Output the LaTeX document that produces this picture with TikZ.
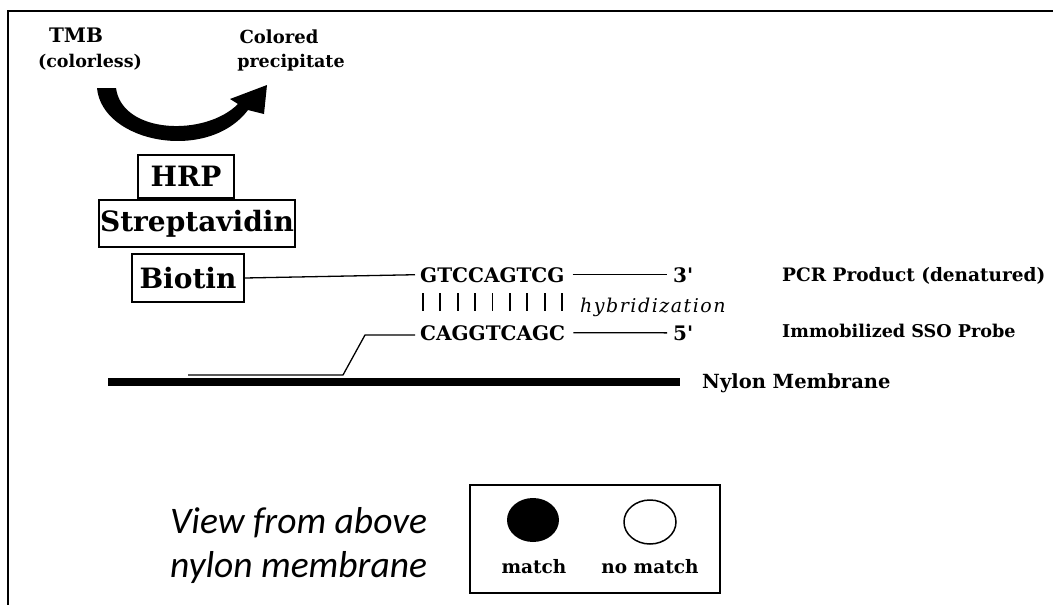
\documentclass[tikz,border=0pt]{standalone}
\usepackage{fontspec}
\newfontfamily\labfont{DejaVu Serif}
\newfontfamily\viewfont{Carlito}
\begin{document}
\begin{tikzpicture}[x=1pt,y=-1pt,
  lab/.style={inner sep=0pt,font=\labfont\bfseries\fontsize{18.5}{20}\selectfont},
  toplab/.style={inner sep=0pt,anchor=base,font=\labfont\bfseries\fontsize{17.5}{19}\selectfont},
  labbig/.style={draw,line width=1.8pt,inner sep=0pt,font=\labfont\bfseries\fontsize{28}{32}\selectfont},
  seq/.style={inner sep=0pt,anchor=base west,font=\labfont\bfseries\fontsize{20}{22}\selectfont},
  strand/.style={line width=1.3pt},
  bar/.style={line width=1.8pt},
  view/.style={inner sep=0pt,anchor=base west,font=\viewfont\itshape\fontsize{37.5}{40}\selectfont},
]
\useasboundingbox (0,0) rectangle (1053,605);

% outer frame (left and top edges)
\draw[line width=2pt] (8,605) -- (8,11) -- (1053,11);

% substrate and product labels
\node[toplab,font=\labfont\bfseries\fontsize{20}{22}\selectfont] (tmb) at (76,42) {TMB};
\node[toplab] (colorless) at (90,67) {(colorless)};
\node[toplab,font=\labfont\bfseries\fontsize{18}{20}\selectfont] (colored) at (279,43) {Colored};
\node[toplab] (precip) at (291,67) {precipitate};

% curved conversion arrow
\fill (97,88) .. controls (102,143) and (208,163) .. (248,110)
  -- (264,114) -- (267,85) -- (230,99) -- (238,104)
  .. controls (205,137) and (122,134) .. (116,88) -- cycle;

% enzyme complex boxes
\node[labbig,minimum width=96pt,minimum height=43pt] (hrp) at (186,176.5) {HRP};
\node[labbig,minimum width=196pt,minimum height=47pt] (strep) at (197,223.5) {Streptavidin};
\node[labbig,minimum width=112pt,minimum height=48pt] (biotin) at (188,278) {Biotin};

% hybridised strands
\node[seq] (top) at (420,282) {GTCCAGTCG};
\node[seq] (three) at (673,282) {3'};
\node[seq] (bot) at (420,340) {CAGGTCAGC};
\node[seq] (five) at (673,340) {5'};

\draw[strand] (biotin.east) -- ([xshift=-5pt]top.west);
\draw[strand] ([xshift=8pt]top.east) -- ([xshift=-6pt]three.west);

\coordinate (tail) at (188,375);
\coordinate (kneeA) at (343,375);
\coordinate (kneeB) at (365,335);
\draw[strand] (tail) -- (kneeA) -- (kneeB) -- ([xshift=-5pt]bot.west |- kneeB);
\draw[strand] ([xshift=8pt]bot.east) -- ([xshift=-6pt]five.west);

% base-pairing bars
\foreach \i in {0,...,8}
  \draw[bar] ({423+\i*17.375},293) -- ({423+\i*17.375},311);
\node[inner sep=0pt,anchor=base west,font=\labfont\itshape\fontsize{19}{21}\selectfont\addfontfeature{LetterSpace=8}] (hyb) at (580,312) {hybridization};

% nylon membrane
\draw[line width=8pt] (108,382) -- (680,382);
\node[lab,anchor=base west,font=\labfont\bfseries\fontsize{19.5}{21}\selectfont] (nylon) at (702,388) {Nylon Membrane};

% side labels
\node[lab,anchor=base west] (pcr) at (782,281) {PCR Product (denatured)};
\node[lab,anchor=base west,font=\labfont\bfseries\fontsize{17.6}{20}\selectfont] (sso) at (782,337) {Immobilized SSO Probe};

% view from above
\node[view] (view1) at (170,533) {View from above};
\node[view] (view2) at (170,577) {nylon membrane};

% legend
\draw[line width=1.8pt] (470,485) rectangle (720,593);
\fill (533,520) ellipse (26pt and 22pt);
\draw[line width=1.5pt] (650,522) ellipse (26pt and 22pt);
\node[lab,anchor=base] (match) at (534,573) {match};
\node[lab,anchor=base] (nomatch) at (650,573) {no match};
\end{tikzpicture}
\end{document}
